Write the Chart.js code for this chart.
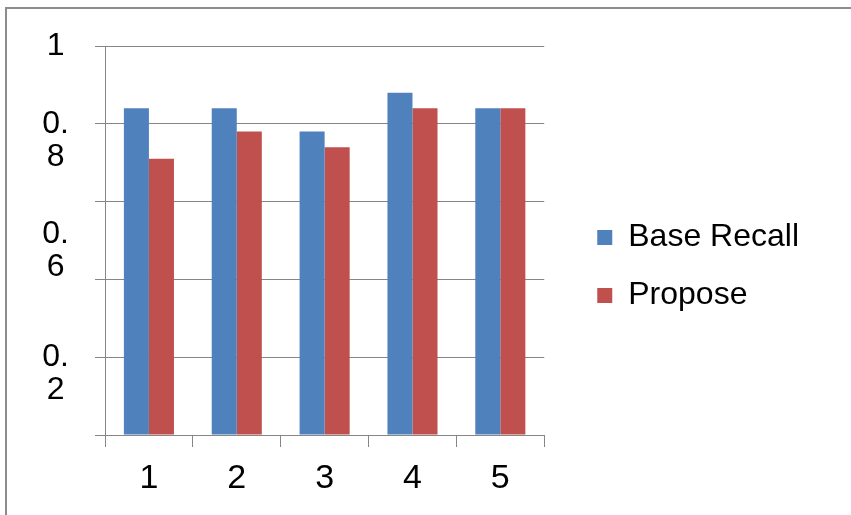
<!DOCTYPE html>
<html>
<head>
<meta charset="utf-8">
<script src="https://cdn.jsdelivr.net/npm/chart.js@4.4.1/dist/chart.umd.min.js"></script>
<style>
  html, body { margin: 0; padding: 0; background: #fff; overflow: hidden; }
  #frame {
    position: absolute; left: 5px; top: 7px; width: 900px; height: 600px;
    border-top: 2px solid #8c8c8c; border-left: 2px solid #8c8c8c;
  }
  #chart { position: absolute; left: 0; top: 0; }
</style>
</head>
<body>
<div id="frame"></div>
<canvas id="chart" width="851" height="515"></canvas>
<script>
// Categories and the two recall series
const categories = ['1', '2', '3', '4', '5'];
const baseRecall = [0.84, 0.84, 0.78, 0.88, 0.84];
const propose = [0.71, 0.78, 0.74, 0.84, 0.84];
// Labels for the value-axis ticks 0, 0.2, ... 1 (blank ones are not shown)
const yTickLabels = ['', '0.2', '', '0.6', '0.8', '1'];

const GRID = '#868686';
const FONT = "'Liberation Sans', Arial, sans-serif";

// Long value labels wrap after the decimal point, like "0." over "8".
function wrapLabel(text, index) {
  if (!text) return '';
  if (text.indexOf('.') < 0) return text;
  const cut = text.indexOf('.') + 1;
  const parts = [text.slice(0, cut), text.slice(cut)];
  // first line sits on the gridline; the 0.6 label has been pushed one line lower
  const lead = index === 3 ? 3 : 1;
  return Array(lead).fill('').concat(parts);
}

new Chart(document.getElementById('chart'), {
  type: 'bar',
  data: {
    labels: categories,
    datasets: [
      { label: 'Base Recall', data: baseRecall, backgroundColor: '#4F81BD', yAxisID: 'y' },
      { label: 'Propose', data: propose, backgroundColor: '#C0504D', yAxisID: 'y' }
    ]
  },
  options: {
    responsive: false,
    animation: false,
    events: [],
    layout: { padding: { top: 46, left: 0, right: 42, bottom: 0 } },
    datasets: { bar: { categoryPercentage: 0.57, barPercentage: 1.0, borderWidth: 0 } },
    plugins: {
      tooltip: { enabled: false },
      legend: {
        position: 'right',
        align: 'center',
        fullSize: false,
        maxWidth: 400,
        title: { display: true, text: '', padding: 0, font: { size: 12, lineHeight: '52px' } },
        labels: {
          boxWidth: 15,
          boxHeight: 15,
          padding: 26,
          color: '#000',
          font: { family: FONT, size: 32 }
        }
      }
    },
    scales: {
      x: {
        grid: { display: true, offset: true, drawOnChartArea: false, drawTicks: true, tickLength: 12, color: GRID, lineWidth: 1 },
        border: { display: true, color: GRID, width: 1 },
        ticks: { color: '#000', padding: 11, font: { family: FONT, size: 34 }, maxRotation: 0 },
        afterFit(scale) { scale.height = 80; }
      },
      y: {
        min: 0,
        max: 1,
        grid: { display: true, drawOnChartArea: true, drawTicks: true, tickLength: 10, color: GRID, lineWidth: 1 },
        border: { display: true, color: GRID, width: 1 },
        ticks: {
          stepSize: 0.2,
          autoSkip: false,
          color: '#000',
          padding: 26,
          crossAlign: 'center',
          font: { family: FONT, size: 32, lineHeight: '33px' },
          callback: (value, index) => wrapLabel(yTickLabels[index], index)
        },
        afterFit(scale) { scale.width = 105; }
      },
      // empty strip between the plot and the legend
      gap: {
        type: 'linear',
        position: 'right',
        display: true,
        grid: { display: false, drawTicks: false },
        border: { display: false },
        ticks: { display: false },
        afterFit(scale) { scale.width = 27; }
      }
    }
  }
});
</script>
</body>
</html>
